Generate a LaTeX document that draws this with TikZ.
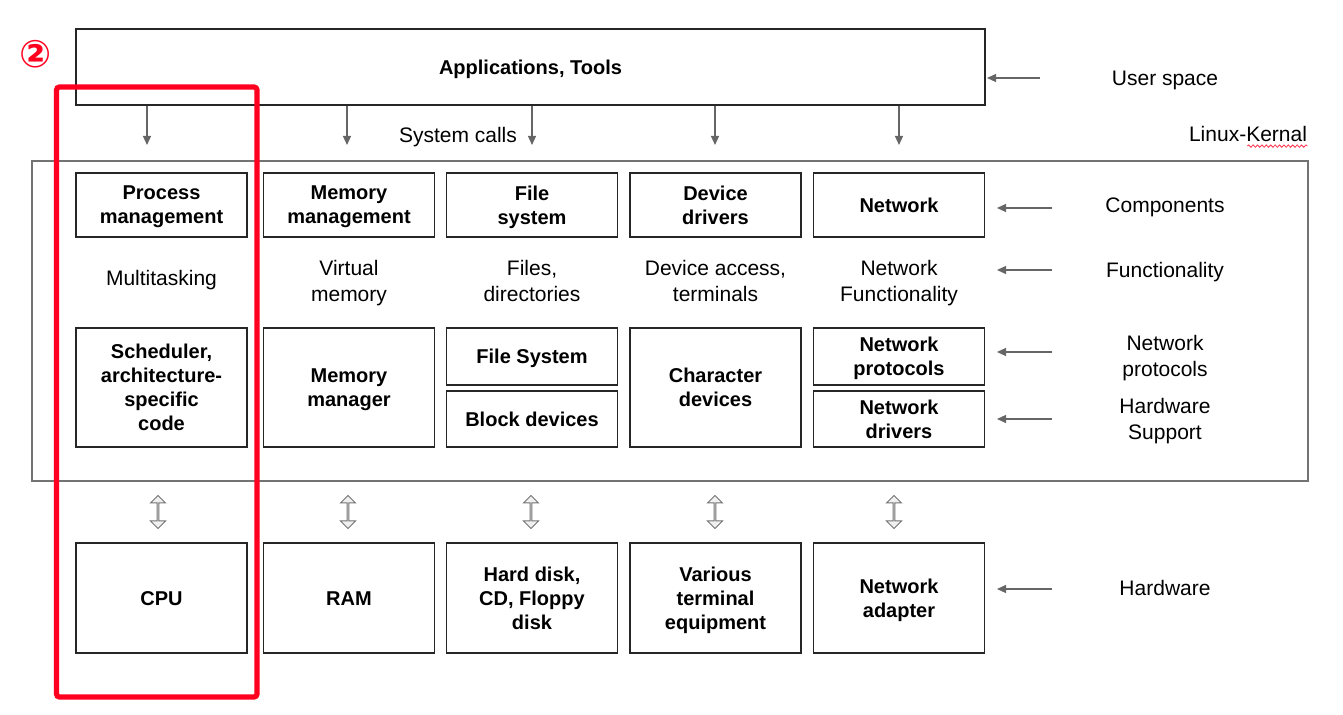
\documentclass[tikz,border=0pt]{standalone}
\usepackage{fontspec}
\setmainfont{Liberation Sans}
\newfontfamily\symfont{DejaVu Sans}
\usetikzlibrary{arrows.meta,shapes.arrows,decorations.pathmorphing}
\definecolor{hilite}{RGB}{255,0,30}
\tikzset{
  linebox/.style={execute at begin node={\rule{0pt}{9.5pt}},execute at end node={\rule[-2.2pt]{0pt}{2.2pt}}},
  ml/.style={text depth=0pt},
  sl/.style={},
  box/.style={draw=black!85,line width=0.6pt,minimum width=85.5pt,minimum height=32pt,inner sep=0pt,align=center,font=\bfseries,linebox},
  lbl/.style={align=center,inner sep=0pt,linebox},
  feed/.style={draw=black!60,line width=0.6pt,-{Triangle[length=4.5pt,width=4pt]}},
  hwlink/.style={double arrow,draw=black!55,fill=black!6,rotate=90,minimum height=16.5pt,minimum width=7.5pt,double arrow head extend=1.8pt,inner sep=0pt,line width=0.5pt},
}
\begin{document}
\begin{tikzpicture}[x=0.5pt,y=-0.5pt,font=\fontsize{10.5}{12.75}\selectfont]
  \useasboundingbox (0,0) rectangle (1343,715);
  % user space
  \node[box,minimum width=454.5pt,minimum height=38pt] (app) at (530.5,67) {Applications, Tools};
  \node[lbl] (usr) at (1165,78) {User space};
  \draw[feed] ([xshift=-62.5pt]usr.center) -- ([xshift=-89pt]usr.center);
  \node[lbl] (sys) at (458,135) {System calls};
  \node[lbl] (lk) at (1248,134) {Linux-Kernal};
  \draw[hilite!80,line width=0.4pt,decorate,decoration={snake,amplitude=0.6pt,segment length=2.2pt}]
    ([xshift=-30pt,yshift=-2.4pt]lk.base east) -- ([yshift=-2.4pt]lk.base east);
  % kernel
  \node[draw=black!55,line width=0.6pt,minimum width=638pt,minimum height=160pt,inner sep=0pt] (kernel) at (670,321) {};
  \foreach[count=\i] \x/\s/\t in {161.5/ml/{Process\\management},349/ml/{Memory\\management},532/ml/{File\\system},715.5/ml/{Device\\drivers},899/sl/Network} {
    \node[box,\s] (comp\i) at (\x,205) {\t};
  }
  \foreach[count=\i] \x in {147,347,532,715,899} {
    \coordinate (sc\i) at (\x,145);
    \draw[feed] (app.south -| sc\i) -- (sc\i);
  }
  \foreach[count=\i] \x/\y/\s/\t in {161.5/278/sl/Multitasking,349/281/ml/{Virtual\\memory},532/281/ml/{Files,\\directories},715.5/281/ml/{Device access,\\terminals},899/281/ml/{Network\\Functionality}} {
    \node[lbl,\s] (fn\i) at (\x,\y) {\t};
  }
  \node[box,ml,minimum height=59.5pt] (sched) at (161.5,387.5) {Scheduler,\\architecture-\\specific\\code};
  \node[box,ml,minimum height=59.5pt] (mm) at (349,387.5) {Memory\\manager};
  \node[box,minimum height=28.5pt] (fs) at (532,356.5) {File System};
  \node[box,minimum height=28pt] (blk) at (532,419) {Block devices};
  \node[box,ml,minimum height=59.5pt] (chr) at (715.5,387.5) {Character\\devices};
  \node[box,ml,minimum height=28.5pt] (proto) at (899,356.5) {Network\\protocols};
  \node[box,ml,minimum height=28pt] (drv) at (899,419) {Network\\drivers};
  % hardware
  \foreach[count=\i] \x/\s/\t in {161.5/sl/CPU,349/sl/RAM,532/ml/{Hard disk,\\CD, Floppy\\disk},715.5/ml/{Various\\terminal\\equipment},899/ml/{Network\\adapter}} {
    \node[box,\s,minimum height=55pt] (hw\i) at (\x,598) {\t};
  }
  \foreach[count=\i] \x in {158,348,531,715,894} {
    \node[hwlink] (link\i) at (\x,512) {};
  }
  % layer labels
  \node[lbl] (r1) at (1165,205) {Components};
  \node[lbl] (r2) at (1165,270) {Functionality};
  \node[lbl,ml] (r3) at (1165,356) {Network\\protocols};
  \node[lbl,ml] (r4) at (1165,419) {Hardware\\Support};
  \node[lbl] (r5) at (1165,588) {Hardware};
  \foreach \i/\d in {1/-1.5,2/0,3/2,4/0,5/-0.5} {
    \draw[feed] ([xshift=-56.5pt,yshift=\d pt]r\i.center) -- ([xshift=-84pt,yshift=\d pt]r\i.center);
  }
  % highlight
  \draw[hilite,line width=2.6pt,rounded corners=1.5pt] (56.5,87) rectangle (257,697);
  \node[text=hilite,inner sep=0pt,font=\symfont\bfseries\fontsize{19}{19}\selectfont] (mark) at (36,54) {②};
\end{tikzpicture}
\end{document}
